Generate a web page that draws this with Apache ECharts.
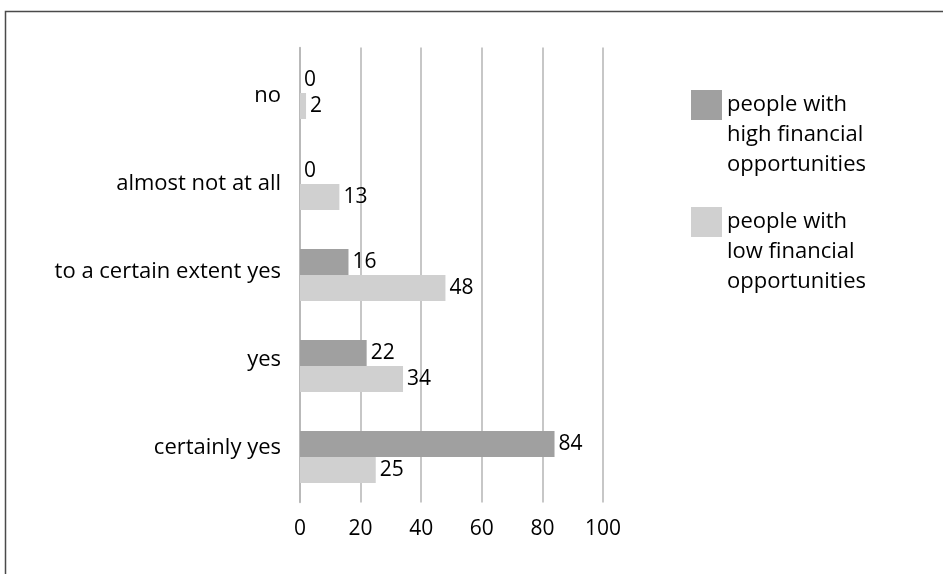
<!DOCTYPE html>
<html>
<head>
<meta charset="utf-8">
<script src="https://cdn.jsdelivr.net/npm/echarts@6/dist/echarts.min.js"></script>
<style>
html,body{margin:0;padding:0;background:#fff;}
#c{width:943px;height:574px;}
</style>
</head>
<body>
<div id="c"></div>
<script>
var categories = ['no', 'almost not at all', 'to a certain extent yes', 'yes', 'certainly yes'];
var highValues = [0, 0, 16, 22, 84];
var lowValues = [2, 13, 48, 34, 25];
var seriesNames = ['people with high financial opportunities', 'people with low financial opportunities'];
var legendLabels = {};
legendLabels[seriesNames[0]] = 'people with\nhigh financial\nopportunities';
legendLabels[seriesNames[1]] = 'people with\nlow financial\nopportunities';
var xTicks = [0, 20, 40, 60, 80, 100];

var FONT = 'Open Sans';
var chart = echarts.init(document.getElementById('c'));
var labelStyle = {show: true, position: 'right', distance: 4, color: '#000', fontSize: 21, fontFamily: FONT};
chart.setOption({
  animation: false,
  backgroundColor: '#fff',
  graphic: [{
    type: 'rect', shape: {x: 5.5, y: 11.5, width: 1200, height: 1200},
    style: {fill: 'none', stroke: '#4a4a4a', lineWidth: 1.5}, z: 100
  }],
  grid: [
    {left: 300, top: 47.5, width: 303, height: 455},
    {left: 300, top: 52, width: 303, height: 440}
  ],
  xAxis: [{
    type: 'value', gridIndex: 0, min: xTicks[0], max: xTicks[xTicks.length - 1], interval: 20,
    axisLine: {show: false}, axisTick: {show: false},
    splitLine: {show: true, lineStyle: {color: '#b4b4b4', width: 1.5}},
    axisLabel: {color: '#000', fontSize: 21, fontFamily: FONT, margin: 16}
  }, {
    type: 'value', gridIndex: 1, min: 0, max: 100, show: false
  }],
  yAxis: [{
    type: 'category', gridIndex: 0, data: categories, inverse: true,
    axisLine: {show: true, lineStyle: {color: '#b4b4b4', width: 1.5}},
    axisTick: {show: false}, axisLabel: {show: false}
  }, {
    type: 'category', gridIndex: 1, data: categories, inverse: true,
    axisLine: {show: false}, axisTick: {show: false}, splitLine: {show: false},
    axisLabel: {color: '#000', fontSize: 22, fontFamily: FONT, margin: 19}
  }],
  legend: {
    data: seriesNames, left: 691, top: 90, orient: 'vertical', padding: 0,
    itemWidth: 31, itemHeight: 90, itemGap: 27,
    icon: 'path://M0 0H31V30H0Z M0 90H31',
    formatter: function (name) { return legendLabels[name]; },
    textStyle: {color: '#000', fontSize: 22, fontFamily: FONT, lineHeight: 30}
  },
  series: [{
    name: seriesNames[0], type: 'bar', xAxisIndex: 0, yAxisIndex: 0,
    data: highValues, barWidth: 26, barGap: '0%',
    itemStyle: {color: '#a0a0a0'}, label: labelStyle
  }, {
    name: seriesNames[1], type: 'bar', xAxisIndex: 0, yAxisIndex: 0,
    data: lowValues, barWidth: 26, barGap: '0%',
    itemStyle: {color: '#d0d0d0'}, label: labelStyle
  }]
});
</script>
</body>
</html>
